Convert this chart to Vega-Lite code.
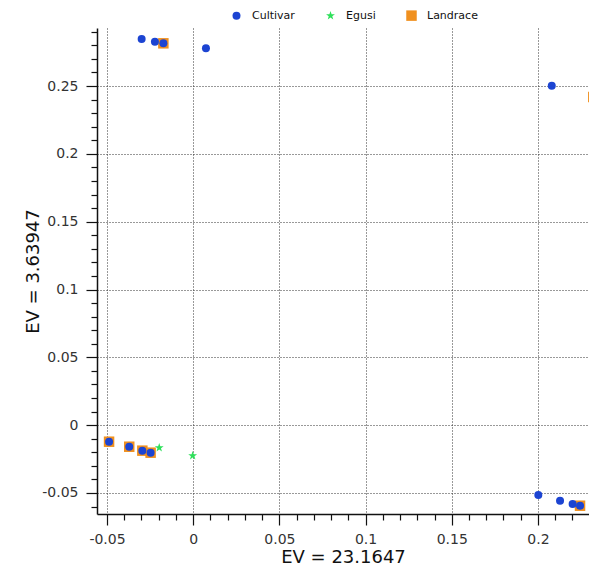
{
  "$schema": "https://vega.github.io/schema/vega-lite/v6.json",
  "width": 492,
  "height": 486,
  "autosize": {"type": "none"},
  "padding": {"left": 97, "top": 28, "right": 0, "bottom": 56},
  "background": "white",
  "config": {
    "view": {"stroke": null},
    "font": "DejaVu Sans"
  },
  "data": {
    "values": [
      {"group": "Landrace", "ev1": -0.0173, "ev2": 0.2815},
      {"group": "Landrace", "ev1": 0.2321, "ev2": 0.2419},
      {"group": "Landrace", "ev1": -0.0488, "ev2": -0.0122},
      {"group": "Landrace", "ev1": -0.0371, "ev2": -0.0159},
      {"group": "Landrace", "ev1": -0.0295, "ev2": -0.0188},
      {"group": "Landrace", "ev1": -0.0247, "ev2": -0.0203},
      {"group": "Landrace", "ev1": 0.2244, "ev2": -0.0594},
      {"group": "Cultivar", "ev1": -0.0299, "ev2": 0.2846},
      {"group": "Cultivar", "ev1": -0.0222, "ev2": 0.2827},
      {"group": "Cultivar", "ev1": -0.0173, "ev2": 0.2815},
      {"group": "Cultivar", "ev1": 0.0074, "ev2": 0.2778},
      {"group": "Cultivar", "ev1": 0.208, "ev2": 0.2502},
      {"group": "Cultivar", "ev1": -0.0488, "ev2": -0.0122},
      {"group": "Cultivar", "ev1": -0.0371, "ev2": -0.0159},
      {"group": "Cultivar", "ev1": -0.0295, "ev2": -0.0188},
      {"group": "Cultivar", "ev1": -0.0247, "ev2": -0.0203},
      {"group": "Cultivar", "ev1": 0.2002, "ev2": -0.0515},
      {"group": "Cultivar", "ev1": 0.2128, "ev2": -0.0557},
      {"group": "Cultivar", "ev1": 0.2201, "ev2": -0.0581},
      {"group": "Cultivar", "ev1": 0.2244, "ev2": -0.0594},
      {"group": "Egusi", "ev1": -0.0197, "ev2": -0.0166},
      {"group": "Egusi", "ev1": -0.0003, "ev2": -0.0225}
    ]
  },
  "mark": {"type": "point", "filled": true, "opacity": 1, "clip": true},
  "encoding": {
    "x": {
      "field": "ev1",
      "type": "quantitative",
      "scale": {"domain": [-0.0558, 0.2296], "nice": false, "zero": false},
      "axis": {
        "title": "EV = 23.1647",
        "titleFont": "DejaVu Sans",
        "titleFontSize": 18,
        "titleFontWeight": "normal",
        "titleColor": "#111",
        "titleX": 246,
        "titleY": 43,
        "titleAnchor": "middle",
        "titleAlign": "center",
        "titleBaseline": "middle",
        "values": [-0.05,-0.04,-0.03,-0.02,-0.01,0,0.01,0.02,0.03,0.04,0.05,0.06,0.07,0.08,0.09,0.1,0.11,0.12,0.13,0.14,0.15,0.16,0.17,0.18,0.19,0.2,0.21,0.22],
        "labelExpr": "round(datum.value*100) % 5 === 0 ? datum.value + '' : ''",
        "labelFont": "DejaVu Sans",
        "labelFontSize": 14,
        "labelColor": "#333",
        "labelPadding": 7,
        "labelFlush": false,
        "labelOverlap": false,
        "tickSize": {"condition": {"test": "round(datum.value*100) % 5 === 0", "value": 11}, "value": 6},
        "tickColor": "#111",
        "tickWidth": 1.2,
        "domainColor": "#111",
        "domainWidth": 1.5,
        "grid": true,
        "gridColor": "#333",
        "gridDash": [1, 2],
        "gridWidth": 1,
        "gridOpacity": {"condition": {"test": "round(datum.value*100) % 5 === 0", "value": 1}, "value": 0}
      }
    },
    "y": {
      "field": "ev2",
      "type": "quantitative",
      "scale": {"domain": [-0.0655, 0.2928], "nice": false, "zero": false},
      "axis": {
        "title": "EV = 3.63947",
        "titleFont": "DejaVu Sans",
        "titleFontSize": 18,
        "titleFontWeight": "normal",
        "titleColor": "#111",
        "titleAngle": -90,
        "titleX": -64,
        "titleY": 243,
        "titleAlign": "center",
        "titleBaseline": "middle",
        "values": [-0.06,-0.05,-0.04,-0.03,-0.02,-0.01,0,0.01,0.02,0.03,0.04,0.05,0.06,0.07,0.08,0.09,0.1,0.11,0.12,0.13,0.14,0.15,0.16,0.17,0.18,0.19,0.2,0.21,0.22,0.23,0.24,0.25,0.26,0.27,0.28,0.29],
        "labelExpr": "round(datum.value*100) % 5 === 0 ? datum.value + '' : ''",
        "labelFont": "DejaVu Sans",
        "labelFontSize": 14,
        "labelColor": "#333",
        "labelPadding": 8,
        "labelFlush": false,
        "labelOverlap": false,
        "tickSize": {"condition": {"test": "round(datum.value*100) % 5 === 0", "value": 11}, "value": 6},
        "tickColor": "#111",
        "tickWidth": 1.2,
        "domainColor": "#111",
        "domainWidth": 1.5,
        "grid": true,
        "gridColor": "#333",
        "gridDash": [1, 2],
        "gridWidth": 1,
        "gridOpacity": {"condition": {"test": "round(datum.value*100) % 5 === 0", "value": 1}, "value": 0}
      }
    },
    "color": {
      "field": "group",
      "type": "nominal",
      "scale": {"domain": ["Cultivar", "Egusi", "Landrace"], "range": ["#1c44d2", "#2ee05a", "#f0901e"]},
      "legend": {
        "title": null,
        "orient": "none",
        "direction": "horizontal",
        "legendX": 134,
        "legendY": -18,
        "padding": 0,
        "columnPadding": 30,
        "symbolSize": 40,
        "symbolStrokeWidth": 0,
        "labelFont": "DejaVu Sans",
        "labelFontSize": 11,
        "labelColor": "#111",
        "labelOffset": 10
      }
    },
    "shape": {
      "field": "group",
      "type": "nominal",
      "scale": {"domain": ["Cultivar", "Egusi", "Landrace"], "range": ["circle", "M0,-1L0.235,-0.324L0.951,-0.309L0.38,0.124L0.588,0.809L0,0.4L-0.588,0.809L-0.38,0.124L-0.951,-0.309L-0.235,-0.324Z", "square"]}
    },
    "size": {
      "field": "group",
      "type": "nominal",
      "scale": {"domain": ["Cultivar", "Egusi", "Landrace"], "range": [64, 110, 150]},
      "legend": null
    }
  }
}
